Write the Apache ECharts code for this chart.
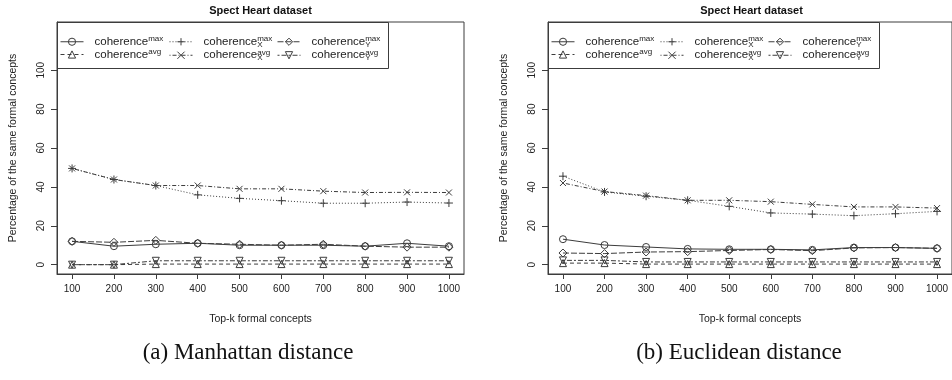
<!DOCTYPE html>
<html>
<head>
<meta charset="utf-8">
<script src="https://cdn.jsdelivr.net/npm/echarts@6/dist/echarts.min.js"></script>
<style>
  html, body { margin: 0; padding: 0; background: #fff; }
  #chart { width: 952px; height: 380px; }
</style>
</head>
<body>
<div id="chart"></div>
<script>
// x axis: top-k formal concepts
const topK = [100, 200, 300, 400, 500, 600, 700, 800, 900, 1000]
const yTicks = [0, 20, 40, 60, 80, 100]

// (a) Manhattan distance
const manMax  = [12, 9.5, 10.5, 11, 10, 10, 10, 9.5, 11, 9.5]
const manAvg  = [0, 0, 0.3, 0.3, 0.3, 0.3, 0.3, 0.3, 0.3, 0.3]
const manXMax = [49.5, 43.8, 40.7, 35.9, 34.1, 32.9, 31.6, 31.6, 32.2, 31.7]
const manXAvg = [49.5, 43.8, 40.7, 40.7, 39, 39, 37.8, 37.1, 37.2, 37.1]
const manYMax = [12, 11.5, 12.5, 11, 10.5, 10, 10.5, 9.5, 9, 9]
const manYAvg = [0, 0, 2, 2, 2, 2, 2, 2, 2, 2]

// (b) Euclidean distance
const eucMax  = [13.1, 10.1, 9.1, 8.1, 7.9, 7.9, 7.6, 8.8, 8.8, 8.4]
const eucAvg  = [0.8, 0.8, 0.3, 0.3, 0.3, 0.3, 0.3, 0.3, 0.3, 0.3]
const eucXMax = [45.5, 37.4, 35.2, 33.1, 30, 26.6, 26, 25.2, 26.2, 27.4]
const eucXAvg = [42, 37.6, 35.5, 33.1, 33.1, 32.4, 31, 29.7, 29.7, 29.1]
const eucYMax = [6, 5.7, 6.5, 6.7, 7.3, 7.8, 7.2, 8.6, 8.8, 8.4]
const eucYAvg = [2.2, 2.2, 1.4, 1.4, 1.4, 1.4, 1.4, 1.4, 1.4, 1.4]

const FONT = '"Liberation Sans", Arial, Helvetica, sans-serif'
const SERIF = '"Liberation Serif", "DejaVu Serif", serif'
const INK = '#3c3c3c'

// marker + line type for each measure (R style pch / lty)
const STYLES = {
  max:  { symbol: 'circle', size: 7, dash: 'solid' },
  avg:  { symbol: 'triangle', size: 7, dash: [4, 3] },
  xmax: { symbol: 'path://M5,0V10M0,5H10', size: 8, dash: [1, 2] },
  xavg: { symbol: 'path://M0,0L10,10M10,0L0,10', size: 6, dash: [1, 2, 4, 2] },
  ymax: { symbol: 'diamond', size: 8, dash: [6, 2] },
  yavg: { symbol: 'path://M0,0L10,0L5,8.66Z', size: 7, dash: [2, 2, 5, 2] },
}

// legend labels with super/subscripts
const LEGEND_TEXT = {
  max:  '{a|coherence}{sp|max}',
  avg:  '{a|coherence}{sp|avg}',
  xmax: '{a|coherence}{sb|X}{sp|max}',
  xavg: '{a|coherence}{sb|X}{sp|avg}',
  ymax: '{a|coherence}{sb|Y}{sp|max}',
  yavg: '{a|coherence}{sb|Y}{sp|avg}',
}

const panels = [
  { left: 57, caption: '(a) Manhattan distance', captionX: 248,
    data: { max: manMax, avg: manAvg, xmax: manXMax, xavg: manXAvg, ymax: manYMax, yavg: manYAvg } },
  { left: 548, caption: '(b) Euclidean distance', captionX: 739,
    data: { max: eucMax, avg: eucAvg, xmax: eucXMax, xavg: eucXAvg, ymax: eucYMax, yavg: eucYAvg } },
]

const GRID_W = 407
const GRID_TOP = 22
const GRID_H = 252

const grid = []
const xAxis = []
const yAxis = []
const series = []
const legend = []
const graphic = []

panels.forEach((p, i) => {
  const off = p.left - 57
  grid.push({ left: p.left, top: GRID_TOP, width: GRID_W, height: GRID_H,
    show: true, borderColor: INK, borderWidth: 1, backgroundColor: 'transparent' })

  xAxis.push({
    type: 'value', gridIndex: i, min: 64, max: 1036,
    name: 'Top-k formal concepts', nameLocation: 'middle', nameGap: 40,
    nameTextStyle: { fontFamily: FONT, fontSize: 10.5, color: '#222' },
    axisLine: { show: true, onZero: false, lineStyle: { color: INK } },
    axisTick: { show: true, length: 5, customValues: topK, lineStyle: { color: INK } },
    axisLabel: { customValues: topK, formatter: (v) => String(v), margin: 10,
      fontFamily: FONT, fontSize: 10, color: '#222' },
    splitLine: { show: false },
  })
  yAxis.push({
    type: 'value', gridIndex: i, min: -4.8, max: 124.8,
    name: 'Percentage of the same formal concepts', nameLocation: 'middle', nameGap: 38,
    nameTextStyle: { fontFamily: FONT, fontSize: 10.5, color: '#222' },
    axisLine: { show: true, onZero: false, lineStyle: { color: INK } },
    axisTick: { show: true, length: 6, customValues: yTicks, lineStyle: { color: INK } },
    axisLabel: { customValues: yTicks, formatter: (v) => String(v), rotate: 90, margin: 11,
      fontFamily: FONT, fontSize: 10, color: '#222' },
    splitLine: { show: false },
  })

  Object.keys(STYLES).forEach((key) => {
    const s = STYLES[key]
    series.push({
      name: key, type: 'line', xAxisIndex: i, yAxisIndex: i,
      data: topK.map((k, j) => [k, p.data[key][j]]),
      symbol: s.symbol, symbolSize: s.size, showAllSymbol: true,
      itemStyle: { color: 'transparent', borderColor: INK, borderWidth: 1 },
      lineStyle: { color: INK, width: 1, type: s.dash },
      emphasis: { disabled: true },
      silent: true,
    })
  })

  const cols = [['max', 'avg'], ['xmax', 'xavg'], ['ymax', 'yavg']]
  const colX = [60, 169, 277]
  cols.forEach((names, c) => {
    legend.push({
      data: names, orient: 'vertical', left: colX[c] + off, top: 35, padding: 0, itemGap: 0,
      itemWidth: 23, itemHeight: 9, selectedMode: false,
      itemStyle: { borderWidth: 1 },
      lineStyle: { width: 1 },
      formatter: (name) => LEGEND_TEXT[name],
      textStyle: {
        fontFamily: FONT, color: '#222',
        rich: {
          a: { fontFamily: FONT, fontSize: 11.5, lineHeight: 13.5, padding: [0, 0, 0, 6], color: '#222' },
          sp: { fontFamily: FONT, fontSize: 8, lineHeight: 8, verticalAlign: 'top', color: '#222' },
          sb: { fontFamily: FONT, fontSize: 8, lineHeight: 8, verticalAlign: 'bottom', width: 0, color: '#222' },
        },
      },
    })
  })

  // legend frame, title and panel caption
  graphic.push({ type: 'rect', shape: { x: p.left + 0.5, y: GRID_TOP + 0.5, width: 331, height: 46 },
    style: { fill: 'none', stroke: INK, lineWidth: 1 }, silent: true })
  graphic.push({ type: 'text', x: p.left + GRID_W / 2, y: 11,
    style: { text: 'Spect Heart dataset', font: 'bold 11px ' + FONT, fill: '#111', align: 'center', verticalAlign: 'middle' } })
  graphic.push({ type: 'text', x: p.captionX, y: 353,
    style: { text: p.caption, font: '23px ' + SERIF, fill: '#111', align: 'center', verticalAlign: 'middle' } })
})

const chart = echarts.init(document.getElementById('chart'), null, { renderer: 'canvas' })
chart.setOption({
  animation: false,
  backgroundColor: '#fff',
  grid, xAxis, yAxis, series, legend, graphic,
})
</script>
</body>
</html>
